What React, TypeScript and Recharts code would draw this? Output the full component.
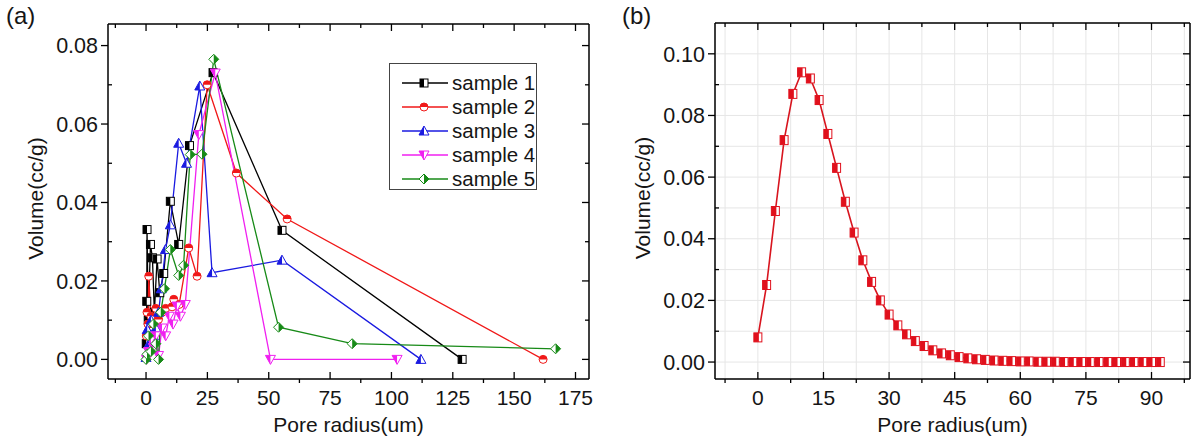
import React from 'react';
import { LineChart, Line, XAxis, YAxis, CartesianGrid, Legend, Label, ReferenceLine } from 'recharts';

const FONT = '"Liberation Sans", Arial, sans-serif';
const TXT = '#151515';

// ---------- Panel (a) data ----------
const s1X = [0.1, 0.3, 0.4, 0.9, 1.8, 2.6, 3.4, 4.5, 5.6, 7.2, 9.9, 13.3, 17.7, 27.3, 55.4, 128.8];
const s1Y = [0.004, 0.0148, 0.0331, 0.010, 0.0293, 0.0259, 0.012, 0.0256, 0.017, 0.0219, 0.0403, 0.0293, 0.0545, 0.0731, 0.0329, 0];

const s2X = [0.1, 0.4, 0.8, 1.1, 2.0, 3.0, 4.0, 5.1, 6.5, 8.0, 10.6, 11.3, 13.5, 17.4, 20.8, 24.9, 36.8, 57.5, 161.8];
const s2Y = [0.006, 0.012, 0.009, 0.0212, 0.011, 0.008, 0.013, 0.0102, 0.012, 0.013, 0.0134, 0.0153, 0.014, 0.0284, 0.0212, 0.070, 0.0475, 0.0358, 0];

const s3X = [0.0, 0.5, 1.2, 2.0, 3.0, 4.0, 5.1, 6.2, 7.9, 9.9, 13.3, 16.5, 21.9, 26.9, 55.4, 112];
const s3Y = [0.0005, 0.0076, 0.004, 0.010, 0.006, 0.008, 0.012, 0.018, 0.028, 0.0343, 0.0551, 0.050, 0.0697, 0.0221, 0.0253, 0];

const s4X = [0.2, 1.0, 2.0, 3.0, 4.0, 5.1, 6.5, 8.0, 9.5, 11.0, 12.6, 14.0, 16.0, 21.5, 28.2, 50.7, 102.3];
const s4Y = [0.0, 0.002, 0.005, 0.003, 0.006, 0.001, 0.008, 0.006, 0.011, 0.009, 0.0136, 0.011, 0.014, 0.0573, 0.073, 0, 0];

const s5X = [0.0, 0.4, 1.0, 2.0, 3.0, 4.0, 5.1, 6.0, 7.5, 9.9, 13.3, 15.3, 18.0, 22.8, 27.6, 54.0, 84.0, 166.9];
const s5Y = [0.0, 0.0013, 0.006, 0.002, 0.009, 0.004, 0.0, 0.012, 0.018, 0.028, 0.0214, 0.024, 0.0522, 0.0523, 0.0765, 0.0082, 0.004, 0.0027];

const seriesNames = ['sample 1', 'sample 2', 'sample 3', 'sample 4', 'sample 5'];
const seriesColors = ['#000000', '#f01818', '#1a1ae0', '#f020f0', '#178a17'];
const seriesShapes = ['square', 'circle', 'triUp', 'triDown', 'diamond'];

// ---------- Panel (b) data ----------
const bX = [0, 2, 4, 6, 8, 10, 12, 14, 16, 18, 20, 22, 24, 26, 28, 30, 32, 34, 36, 38, 40, 42, 44, 46, 48, 50,
  52, 54, 56, 58, 60, 62, 64, 66, 68, 70, 72, 74, 76, 78, 80, 82, 84, 86, 88, 90, 92];
const bY = [0.008, 0.025, 0.049, 0.072, 0.087, 0.094, 0.092, 0.085, 0.074, 0.063, 0.052, 0.042, 0.033, 0.026,
  0.020, 0.0154, 0.0119, 0.009, 0.0068, 0.0052, 0.0038, 0.0028, 0.0022, 0.0016, 0.0012, 0.0009, 0.0007, 0.0005,
  0.0004, 0.0003, 0.0002, 0.0002, 0.0001, 0.0001, 0.0001, 0, 0, 0, 0, 0, 0, 0, 0, 0, 0, 0, 0];

// ---------- Axes ----------
const aXDomain = [-15.5, 180.5];
const aYDomain = [-0.005, 0.0855];
const aXMajor = [0, 25, 50, 75, 100, 125, 150, 175];
const aXMinor = [-12.5, 12.5, 37.5, 62.5, 87.5, 112.5, 137.5, 162.5];
const aYMajor = [0, 0.02, 0.04, 0.06, 0.08];
const aYMinor = [0.01, 0.03, 0.05, 0.07];

const bXDomain = [-9.8, 98.8];
const bYDomain = [-0.0055, 0.11];
const bXMajor = [0, 15, 30, 45, 60, 75, 90];
const bXMinor = [-7.5, 7.5, 22.5, 37.5, 52.5, 67.5, 82.5, 97.5];
const bYMajor = [0, 0.02, 0.04, 0.06, 0.08, 0.10];
const bYMinor = [0.01, 0.03, 0.05, 0.07, 0.09];

const sortNum = (a: number[]) => [...a].sort((p, q) => p - q);
const zip = (xs: number[], ys: number[]) => xs.map((x, i) => ({ x, y: ys[i] }));
const aData = [zip(s1X, s1Y), zip(s2X, s2Y), zip(s3X, s3Y), zip(s4X, s4Y), zip(s5X, s5Y)];
const bData = zip(bX, bY);

const isIn = (list: number[], v: number) => list.some((m) => Math.abs(m - v) < 1e-9);

function Marker({ shape, cx, cy, color, size = 8 }: any) {
  const h = size / 2;
  const sw = 1;
  if (cx == null || cy == null) return <g />;
  switch (shape) {
    case 'square':
      return (
        <g>
          <rect x={cx - h} y={cy - h} width={size} height={size} fill="#fff" stroke={color} strokeWidth={sw} />
          <rect x={cx - h} y={cy - h} width={h} height={size} fill={color} />
        </g>
      );
    case 'circle':
      return (
        <g>
          <circle cx={cx} cy={cy} r={h} fill="#fff" stroke={color} strokeWidth={sw} />
          <path d={`M${cx - h},${cy} A${h},${h} 0 0 1 ${cx + h},${cy} Z`} fill={color} />
        </g>
      );
    case 'triUp':
      return (
        <g>
          <polygon points={`${cx},${cy - h - 1} ${cx + h + 1},${cy + h} ${cx - h - 1},${cy + h}`} fill="#fff" stroke={color} strokeWidth={sw} />
          <polygon points={`${cx},${cy - h - 1} ${cx},${cy + h} ${cx - h - 1},${cy + h}`} fill={color} />
        </g>
      );
    case 'triDown':
      return (
        <g>
          <polygon points={`${cx - h - 1},${cy - h} ${cx + h + 1},${cy - h} ${cx},${cy + h + 1}`} fill="#fff" stroke={color} strokeWidth={sw} />
          <polygon points={`${cx - h - 1},${cy - h} ${cx},${cy - h} ${cx},${cy + h + 1}`} fill={color} />
        </g>
      );
    case 'diamond':
      return (
        <g>
          <polygon points={`${cx},${cy - h - 1} ${cx + h + 1},${cy} ${cx},${cy + h + 1} ${cx - h - 1},${cy}`} fill="#fff" stroke={color} strokeWidth={sw} />
          <polygon points={`${cx},${cy - h - 1} ${cx + h + 1},${cy} ${cx},${cy + h + 1}`} fill={color} />
        </g>
      );
    case 'bsquare':
      return (
        <g>
          <rect x={cx - 4} y={cy - 4.5} width={8} height={9} fill="#fff" stroke={color} strokeWidth={1} />
          <rect x={cx - 4} y={cy - 4.5} width={5} height={9} fill={color} />
        </g>
      );
    default:
      return <g />;
  }
}

function makeXTick(majors: number[], plotH: number) {
  return (props: any) => {
    const { x, y, payload } = props;
    const v = payload.value;
    const major = isIn(majors, v);
    return (
      <g>
        <line x1={x} x2={x} y1={y} y2={major ? y - 7 : y + 4} stroke="#000" strokeWidth={1.3} />
        <line x1={x} x2={x} y1={y - plotH} y2={y - plotH + (major ? 7 : 4)} stroke="#000" strokeWidth={1.3} />
        {major && (
          <text x={x} y={y + 26} textAnchor="middle" fontSize={21} fontFamily={FONT} fill={TXT}>
            {String(v)}
          </text>
        )}
      </g>
    );
  };
}

function makeYTick(majors: number[], plotW: number) {
  return (props: any) => {
    const { x, y, payload } = props;
    const v = payload.value;
    const major = isIn(majors, v);
    return (
      <g>
        <line x1={x} x2={major ? x - 7 : x + 4} y1={y} y2={y} stroke="#000" strokeWidth={1.3} />
        <line x1={x + plotW} x2={x + plotW - (major ? 7 : 4)} y1={y} y2={y} stroke="#000" strokeWidth={1.3} />
        {major && (
          <text x={x - 10} y={y} dy="0.36em" textAnchor="end" fontSize={21.5} fontFamily={FONT} fill={TXT}>
            {v.toFixed(2)}
          </text>
        )}
      </g>
    );
  };
}

const xTitle = (props: any) => {
  const vb = props.viewBox || {};
  return (
    <text x={vb.x + vb.width / 2} y={vb.y + 53} textAnchor="middle" fontSize={21} fontFamily={FONT} fill={TXT}>
      Pore radius(um)
    </text>
  );
};

const yTitle = (props: any) => {
  const vb = props.viewBox || {};
  const cx = vb.x + vb.width - 72;
  const cy = vb.y + vb.height / 2 - 3;
  return (
    <text x={cx} y={cy} dy="0.35em" transform={`rotate(-90 ${cx} ${cy})`} textAnchor="middle" fontSize={21} fontFamily={FONT} fill={TXT}>
      Volume(cc/g)
    </text>
  );
};

const renderLegend = (props: any) => {
  const payload = props.payload || [];
  return (
    <div
      style={{
        border: '1px solid #444',
        background: '#fff',
        width: 148,
        height: 127,
        boxSizing: 'border-box',
        padding: '7px 0 0 11px',
        fontFamily: FONT,
        fontSize: 20.5,
        color: TXT,
      }}
    >
      {payload.map((p: any) => {
        const idx = seriesNames.indexOf(p.value);
        return (
          <div key={p.value} style={{ display: 'flex', alignItems: 'center', height: 24 }}>
            <svg width={47} height={16} style={{ display: 'block' }}>
              <line x1={1} x2={47} y1={8} y2={8} stroke={seriesColors[idx]} strokeWidth={1.3} />
              <Marker shape={seriesShapes[idx]} cx={23} cy={8} color={seriesColors[idx]} />
            </svg>
            <span style={{ marginLeft: 4, lineHeight: '24px', whiteSpace: 'nowrap' }}>{p.value}</span>
          </div>
        );
      })}
    </div>
  );
};

const A_PLOT_W = 481;
const A_PLOT_H = 355;
const B_PLOT_W = 475;
const B_PLOT_H = 356;

export default function App() {
  return (
    <div style={{ position: 'absolute', left: 0, top: 0, width: 1204, height: 444, background: '#fff', fontFamily: FONT }}>
      <div style={{ position: 'absolute', left: 0, top: 0 }}>
        <LineChart width={600} height={444} margin={{ top: 24, right: 11, bottom: 25, left: 48 }}>
          <XAxis
            type="number"
            dataKey="x"
            domain={aXDomain}
            ticks={sortNum([...aXMajor, ...aXMinor])}
            interval={0}
            tickSize={0}
            tickMargin={0}
            tickLine={false}
            tick={makeXTick(aXMajor, A_PLOT_H)}
            axisLine={{ stroke: '#000', strokeWidth: 1.5 }}
            height={40}
            allowDataOverflow
          >
            <Label content={xTitle} />
          </XAxis>
          <YAxis
            type="number"
            domain={aYDomain}
            ticks={sortNum([...aYMajor, ...aYMinor])}
            interval={0}
            tickSize={0}
            tickMargin={0}
            tickLine={false}
            tick={makeYTick(aYMajor, A_PLOT_W)}
            axisLine={{ stroke: '#000', strokeWidth: 1.5 }}
            width={60}
            allowDataOverflow
          >
            <Label content={yTitle} />
          </YAxis>
          <ReferenceLine y={aYDomain[1]} stroke="#000" strokeWidth={1.5} ifOverflow="visible" />
          <ReferenceLine x={aXDomain[1]} stroke="#000" strokeWidth={1.5} ifOverflow="visible" />
          {aData.map((d, i) => (
            <Line
              key={seriesNames[i]}
              name={seriesNames[i]}
              data={d}
              dataKey="y"
              type="linear"
              stroke={seriesColors[i]}
              strokeWidth={1.3}
              isAnimationActive={false}
              activeDot={false}
              dot={(p: any) => (
                <Marker key={`${i}-${p.index}`} shape={seriesShapes[i]} cx={p.cx} cy={p.cy} color={seriesColors[i]} />
              )}
            />
          ))}
          <Legend
            layout="horizontal"
            verticalAlign="middle"
            align="center"
            content={renderLegend}
            wrapperStyle={{ position: 'absolute', left: 389, top: 63, width: 148, height: 127 }}
          />
        </LineChart>
      </div>

      <div style={{ position: 'absolute', left: 604, top: 0 }}>
        <LineChart width={600} height={444} margin={{ top: 23, right: 14, bottom: 25, left: 51 }}>
          <CartesianGrid stroke="#e6e6e6" strokeWidth={1} />
          <XAxis
            type="number"
            dataKey="x"
            domain={bXDomain}
            ticks={sortNum([...bXMajor, ...bXMinor])}
            interval={0}
            tickSize={0}
            tickMargin={0}
            tickLine={false}
            tick={makeXTick(bXMajor, B_PLOT_H)}
            axisLine={{ stroke: '#000', strokeWidth: 1.5 }}
            height={40}
            allowDataOverflow
          >
            <Label content={xTitle} />
          </XAxis>
          <YAxis
            type="number"
            domain={bYDomain}
            ticks={sortNum([...bYMajor, ...bYMinor])}
            interval={0}
            tickSize={0}
            tickMargin={0}
            tickLine={false}
            tick={makeYTick(bYMajor, B_PLOT_W)}
            axisLine={{ stroke: '#000', strokeWidth: 1.5 }}
            width={60}
            allowDataOverflow
          >
            <Label content={yTitle} />
          </YAxis>
          <ReferenceLine y={bYDomain[1]} stroke="#000" strokeWidth={1.5} ifOverflow="visible" />
          <ReferenceLine x={bXDomain[1]} stroke="#000" strokeWidth={1.5} ifOverflow="visible" />
          <Line
            name="volume"
            data={bData}
            dataKey="y"
            type="linear"
            stroke="#d8141e"
            strokeWidth={1.6}
            isAnimationActive={false}
            activeDot={false}
            dot={(p: any) => <Marker key={`b-${p.index}`} shape="bsquare" cx={p.cx} cy={p.cy} color="#e0101c" />}
          />
        </LineChart>
      </div>

      <div style={{ position: 'absolute', left: 6, top: 2, fontSize: 24, fontFamily: FONT, color: TXT }}>(a)</div>
      <div style={{ position: 'absolute', left: 622, top: 2, fontSize: 24, fontFamily: FONT, color: TXT }}>(b)</div>
    </div>
  );
}
